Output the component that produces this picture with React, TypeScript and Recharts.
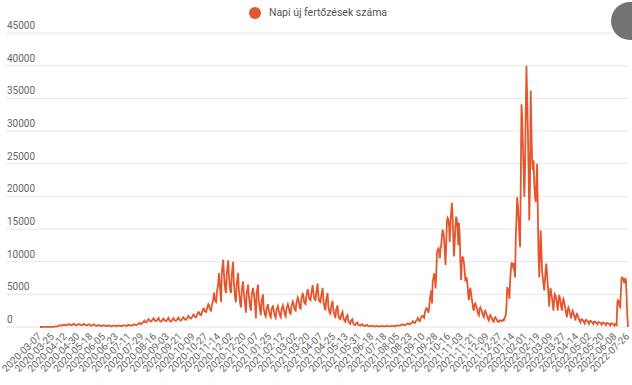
import React from 'react';
import { LineChart, Line, XAxis, YAxis, CartesianGrid, Legend } from 'recharts';

// Napi új fertőzések – one value per reported day
const spring2020: number[] = [
  1, 2, 3, 2, 4, 5, 7,
  9, 6, 8, 5, 12, 15, 20,
  22, 25, 28, 20, 33, 38, 40,
  60, 80, 90, 70, 120, 160, 200,
  280, 230, 210, 200, 280, 320, 350,
  360, 290, 260, 250, 360, 400, 450,
  400, 330, 300, 280, 400, 450, 500,
  360, 290, 260, 250, 360, 400, 450,
  380, 310, 280, 270, 380, 430, 480,
  340, 270, 250, 240, 340, 380, 420,
  320, 260, 230, 220, 320, 360, 400,
  260, 210, 190, 180, 260, 290, 320,
  220, 180, 160, 150, 220, 250, 280,
  200, 160, 140, 130, 200, 230, 250,
  180, 150, 130, 120, 180, 210, 230,
  190, 160, 130, 120, 190, 220, 240,
  210, 170, 150, 140, 210, 230, 260,
  240, 200, 170, 160, 240, 270, 300,
  280, 230, 210, 200, 280, 320, 350,
  400, 330, 310, 300, 400, 450, 500,
  640, 520, 480, 450, 640, 720, 800,
  960, 780, 740, 700, 960, 1080, 1200,
  1080, 880, 870, 850, 1080, 1220, 1350,
  1120, 950, 920, 900, 1120, 1260, 1400,
  1040, 900, 870, 850, 1040, 1170, 1300,
  1120, 950, 920, 900, 1120, 1260, 1400,
  1080, 900, 870, 850, 1080, 1220, 1350,
  1160, 1000, 970, 950, 1160, 1300, 1450,
  1200, 1050, 1020, 1000, 1200, 1350, 1500,
  1360, 1150, 1120, 1100, 1360, 1530, 1700,
];

const autumn2020Spring2021: number[] = [
  1520, 1350, 1320, 1300, 1520, 1710, 1900,
  1840, 1550, 1520, 1500, 1840, 2070, 2300,
  2240, 1900, 1850, 1800, 2240, 2520, 2800,
  2800, 2400, 2350, 2300, 2800, 3150, 3500,
  3360, 2800, 2600, 2500, 3360, 3780, 4200,
  5280, 4300, 3900, 3800, 5280, 5940, 6600,
  8240, 6700, 5200, 3800, 8240, 9270, 10300,
  8160, 6630, 5600, 5200, 8160, 9180, 10200,
  8000, 6500, 5500, 5200, 8000, 9000, 10000,
  6640, 5400, 4200, 3800, 6640, 7470, 8300,
  5600, 4550, 3500, 3000, 5600, 6300, 7000,
  5200, 4200, 3250, 2200, 5200, 5850, 6500,
  4800, 3900, 3000, 2500, 4800, 5400, 6000,
  5200, 4200, 3200, 1300, 5200, 5850, 6500,
  4000, 3250, 2500, 1800, 4000, 4500, 5000,
  2800, 2300, 1800, 1600, 2800, 3150, 3500,
  2640, 2150, 1700, 1500, 2640, 2970, 3300,
  2560, 2080, 1600, 1400, 2560, 2880, 3200,
  2640, 2150, 1700, 1500, 2640, 2970, 3300,
  2800, 2280, 1800, 1600, 2800, 3150, 3500,
  3120, 2540, 2100, 2000, 3120, 3510, 3900,
  3600, 2900, 2600, 2500, 3600, 4050, 4500,
  4160, 3400, 2900, 2800, 4160, 4680, 5200,
  4640, 3800, 3600, 3500, 4640, 5220, 5800,
  5120, 4300, 4200, 4100, 5120, 5760, 6400,
  5300, 4400, 4200, 4100, 5300, 5980, 6650,
  4800, 4000, 3900, 3800, 4800, 5400, 6000,
  4160, 3400, 2800, 2700, 4160, 4680, 5200,
  3200, 2600, 2100, 2000, 3200, 3600, 4000,
  2640, 2150, 1600, 1500, 2640, 2970, 3300,
  1840, 1500, 1250, 1200, 1840, 2070, 2300,
  1440, 1170, 900, 800, 1440, 1620, 1800,
  960, 780, 600, 500, 960, 1080, 1200,
  560, 450, 350, 300, 560, 630, 700,
  360, 290, 230, 200, 360, 400, 450,
];

const summerAutumn2021: number[] = [
  240, 200, 170, 150, 240, 270, 300,
  160, 130, 110, 100, 160, 180, 200,
  120, 100, 90, 80, 120, 135, 150,
  110, 95, 85, 75, 115, 130, 140,
  125, 105, 90, 85, 125, 140, 160,
  150, 120, 110, 100, 150, 165, 180,
  180, 150, 130, 120, 180, 200, 220,
  280, 230, 210, 200, 280, 320, 350,
  400, 330, 300, 280, 400, 450, 500,
  560, 460, 420, 400, 560, 630, 700,
  880, 720, 650, 600, 880, 990, 1100,
  1360, 1100, 950, 900, 1360, 1530, 1700,
  1700, 1500, 1400, 2200, 2600, 2900, 2800,
  2500, 2200, 3000, 4300, 5000, 5600, 3600,
  6900, 7500, 8200, 7800, 5900, 8000, 11300,
  11800, 12000, 11500, 10500, 12000, 12500, 14000,
  14900, 14500, 13500, 11500, 9500, 12500, 16200,
  16700, 16500, 15500, 13000, 16000, 17500, 19000,
  17000, 13500, 10800, 13000, 15500, 16900, 16400,
  15000, 12500, 16000, 14000, 10000, 7200, 10000,
  10800, 10500, 9800, 8500, 7000, 7700, 7400,
  6500, 5000, 4100, 5500, 6000, 5200, 4300,
  3600, 2800, 2500, 3400, 3600, 3300, 3000,
  2400, 2000, 1800, 2800, 3000, 2700, 2500,
  2000, 1700, 1500, 2300, 2500, 2200, 1900,
  1500, 1200, 1000, 1600, 1800, 1600, 1400,
  1100, 900, 800, 1400, 1500, 1300, 1200,
  900, 800, 770, 1000, 1000, 950, 900,
];

const omicron2022: number[] = [
  1000, 1100, 1000, 1300, 1600, 1800, 3500,
  6100, 5800, 5500, 4300, 7000, 8700, 9900,
  9500, 9200, 9800, 8500, 7600, 14000, 16800,
  19900, 18500, 16500, 14000, 12200, 22000, 34100,
  32100, 28000, 24000, 19900, 24000, 33000, 40000,
  35000, 30000, 24000, 16300, 22000, 36200, 30000,
  25500, 24000, 25500, 22000, 20000, 19100, 22000,
  25000, 18000, 11000, 7600, 11000, 14800, 12000,
  8500, 7600, 6500, 5600, 7000, 8800, 9700,
  8000, 6600, 5000, 3100, 5000, 6000, 5100,
  4500, 3500, 2500, 4000, 5000, 4800, 4300,
  3500, 2500, 3800, 4900, 4500, 3800, 3000,
  2500, 3800, 4300, 4000, 3300, 2600, 2000,
  1500, 2600, 3000, 2700, 2200, 1800, 1300,
  2200, 2500, 2200, 1800, 1500, 1000, 1800,
  2000, 1800, 1500, 1200, 900, 700, 1100,
  1200, 1100, 900, 750, 550, 1000, 1100,
  1000, 850, 700, 500, 900, 950, 900,
  750, 600, 450, 800, 850, 800, 650,
  550, 420, 700, 750, 700, 600, 500,
  350, 650, 680, 620, 520, 450, 300,
  600, 620, 580, 480, 400, 250, 550,
  580, 520, 430, 350, 200, 450, 400,
  300, 3800, 4100, 3900, 3200, 3050, 5500,
  7500, 7600, 7400, 7000, 6700, 7500, 7200,
  4900, 2000, 0,
];

const tickLabels = [
  '2020-03-07', '2020-03-25', '2020-04-12', '2020-04-30', '2020-05-18', '2020-06-05',
  '2020-06-23', '2020-07-11', '2020-07-29', '2020-08-16', '2020-09-03', '2020-09-21',
  '2020-10-09', '2020-10-27', '2020-11-14', '2020-12-02', '2020-12-20', '2021-01-07',
  '2021-01-25', '2021-02-12', '2021-03-02', '2021-03-20', '2021-04-07', '2021-04-25',
  '2021-05-13', '2021-05-31', '2021-06-18', '2021-07-18', '2021-08-05', '2021-08-23',
  '2021-09-10', '2021-09-28', '2021-10-16', '2021-11-03', '2021-11-21', '2021-12-09',
  '2021-12-27', '2022-01-14', '2022-02-01', '2022-02-19', '2022-03-09', '2022-03-27',
  '2022-04-14', '2022-05-02', '2022-05-20', '2022-06-08', '2022-07-26',
];

const yTicks = [0, 5000, 10000, 15000, 20000, 25000, 30000, 35000, 40000, 45000];

const LINE_COLOR = '#e4572e';
const LABEL_SPACING = 18;

const dailyCases = [...spring2020, ...autumn2020Spring2021, ...summerAutumn2021, ...omicron2022];
const data = dailyCases.map((cases, day) => ({ day, cases }));

const DateTick = (props: any) => {
  const { x, payload } = props;
  const label = tickLabels[Math.round(payload.value / LABEL_SPACING)];
  const tx = x + 2;
  const ty = 337;
  return (
    <text x={tx} y={ty} transform={`rotate(-45, ${tx}, ${ty})`} textAnchor="end" fontSize={10} fill="#666">
      {label}
    </text>
  );
};

// labels sit above their gridline at the left edge
const ValueTick = (props: any) => {
  const { y, payload } = props;
  return (
    <text x={7} y={y - 4} fontSize={10} fill="#666" textAnchor="start">
      {payload.value}
    </text>
  );
};

const LegendContent = () => (
  <div style={{ display: 'flex', justifyContent: 'center', alignItems: 'center' }}>
    <span style={{ width: 12, height: 12, borderRadius: '50%', background: LINE_COLOR, marginRight: 8 }} />
    <span style={{ fontSize: 10.5, color: '#555' }}>Napi új fertőzések száma</span>
  </div>
);

export default function App() {
  return (
    <div style={{ position: 'absolute', left: 0, top: 0, width: 632, height: 385, fontFamily: 'Roboto, sans-serif', background: '#fff', overflow: 'hidden' }}>
      <LineChart width={632} height={385} data={data} margin={{ top: 33, right: 4, left: 5, bottom: 0 }}>
        <CartesianGrid vertical={false} stroke="#e6e6e6" />
        <XAxis
          dataKey="day"
          type="category"
          interval={LABEL_SPACING - 1}
          padding={{ left: 34, right: 0 }}
          axisLine={false}
          tickLine={false}
          height={58}
          tick={<DateTick />}
        />
        <YAxis
          domain={[0, 45000]}
          ticks={yTicks}
          interval={0}
          width={1}
          axisLine={false}
          tickLine={false}
          tick={<ValueTick />}
        />
        <Legend
          verticalAlign="middle"
          align="center"
          layout="horizontal"
          wrapperStyle={{ top: 6, left: 2, width: 632 }}
          content={<LegendContent />}
        />
        <Line
          type="linear"
          dataKey="cases"
          stroke={LINE_COLOR}
          strokeWidth={1.8}
          dot={false}
          isAnimationActive={false}
        />
      </LineChart>
      <div style={{ position: 'absolute', left: 611, top: 2, width: 38, height: 38, borderRadius: '50%', background: '#737373' }} />
    </div>
  );
}
